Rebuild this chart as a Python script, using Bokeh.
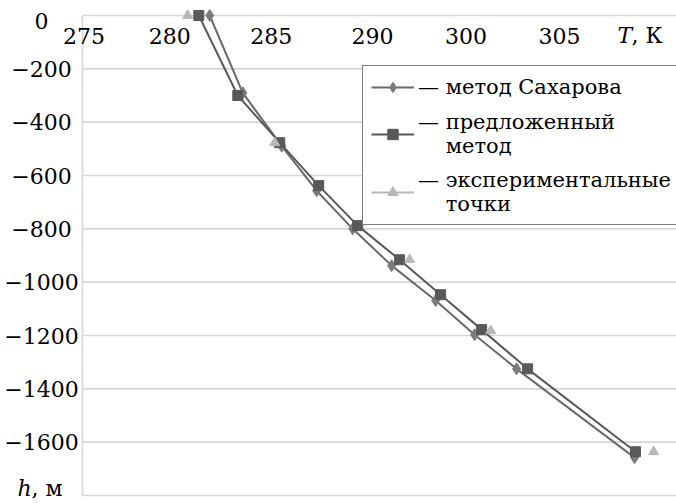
from bokeh.plotting import figure
from bokeh.models import Range1d, Legend, LegendItem
from bokeh.core.properties import value
from bokeh.embed import file_html
from bokeh.resources import INLINE

# ---------------- data ----------------
h_sakharov = [0, -290, -490, -657, -800, -938, -1069, -1197, -1325, -1658]
T_sakharov = [282.56, 284.68, 287.18, 289.42, 291.73, 294.23, 297.05, 299.55, 302.24, 309.81]

h_proposed = [0, -300, -477, -638, -788, -916, -1047, -1178, -1325, -1636]
T_proposed = [281.86, 284.36, 287.05, 289.55, 292.05, 294.74, 297.37, 300.00, 302.95, 309.87]

h_exp = [0, -477, -916, -1182, -1636]
T_exp = [281.15, 286.73, 295.38, 300.58, 311.03]

x_tick_pos = [274.5, 280.0, 286.5, 293.0, 299.0, 305.0]
x_tick_labels = ["275", "280", "285", "290", "300", "305"]

y_ticks = [0, -200, -400, -600, -800, -1000, -1200, -1400, -1600, -1800]
y_tick_labels = ["0", "\u2212200", "\u2212400", "\u2212600", "\u2212800", "\u22121000",
                 "\u22121200", "\u22121400", "\u22121600", ""]

series_names = ["\u2014 метод Сахарова",
                "\u2014 предложенный\n\u2003 метод",
                "\u2014 экспериментальные\n\u2003 точки"]

# ---------------- layout / style ----------------
W, H = 676, 503
PLOT_L, PLOT_T = 82, 15           # canvas px of the plot area's top-left corner
X_AT_L, X_AT_R = 274.4, 312.5     # data x at PLOT_L and at the right canvas edge
Y_AT_T, Y_AT_B = 0, -1800         # data y at PLOT_T and at the plot bottom (px 495)
SX = (W - PLOT_L) / (X_AT_R - X_AT_L)
SY = (495 - PLOT_T) / (Y_AT_T - Y_AT_B)


def px_to_x(px):
    return X_AT_L + (px - PLOT_L) / SX


def py_to_y(py):
    return Y_AT_T - (py - PLOT_T) / SY


FONT = "DejaVu Serif"
FS = "22px"
FS_LEG = "21px"
GRID = "#d6d6d6"
C_SAK = "#7c7c7c"
C_SAK_LINE = "#6a6a6a"
C_PROP = "#595959"
C_EXP = "#b8b8b8"

p = figure(width=W, height=H, output_backend="svg", toolbar_location=None,
           x_range=Range1d(px_to_x(0), px_to_x(W)), y_range=Range1d(py_to_y(H), py_to_y(0)),
           x_axis_type=None, y_axis_type=None, min_border=0)
p.outline_line_color = None
p.background_fill_color = "white"
p.border_fill_color = "white"
p.grid.visible = False

# horizontal grid lines and the vertical axis line of the plot area
p.segment(x0=[X_AT_L] * len(y_ticks), x1=[X_AT_R] * len(y_ticks), y0=y_ticks, y1=y_ticks,
          line_color=GRID, line_width=1.6)
p.segment(x0=[X_AT_L], x1=[X_AT_L], y0=[min(y_ticks)], y1=[max(y_ticks)],
          line_color=GRID, line_width=1.6)

# series
r_s_line = p.line(T_sakharov, h_sakharov, line_color=C_SAK_LINE, line_width=2)
r_s_pts = p.scatter(T_sakharov, h_sakharov, marker="diamond", size=12,
                    fill_color=C_SAK, line_color=C_SAK)
r_p_line = p.line(T_proposed, h_proposed, line_color=C_PROP, line_width=2)
r_p_pts = p.scatter(T_proposed, h_proposed, marker="square", size=10,
                    fill_color=C_PROP, line_color=C_PROP)
r_e_line = p.line(x=[float("nan")], y=[float("nan")], line_color=C_EXP, line_width=2)
r_e_pts = p.scatter(T_exp, h_exp, marker="triangle", size=10,
                    fill_color=C_EXP, line_color=C_EXP)

txt = dict(text_font=value(FONT), text_font_size=value(FS), text_color="black")

# x tick labels (under the zero line)
p.text(x=x_tick_pos, y=[py_to_y(35)] * len(x_tick_pos), text=x_tick_labels,
       text_align="center", text_baseline="middle", **txt)

# y tick labels (centred in the left margin)
ylab_y = [py_to_y(20) if v == 0 else v for v in y_ticks]
p.text(x=[px_to_x(41)] * len(y_ticks), y=ylab_y, text=y_tick_labels,
       text_align="center", text_baseline="middle", **txt)

# axis titles
p.text(x=[px_to_x(617)], y=[py_to_y(35)], text=["T"], text_align="left",
       text_baseline="middle", text_font_style="italic", **txt)
p.text(x=[px_to_x(631)], y=[py_to_y(35)], text=[", К"], text_align="left",
       text_baseline="middle", **txt)
p.text(x=[px_to_x(17)], y=[py_to_y(488)], text=["h"], text_align="left",
       text_baseline="middle", text_font_style="italic", **txt)
p.text(x=[px_to_x(31)], y=[py_to_y(488)], text=[", м"], text_align="left",
       text_baseline="middle", **txt)

legend = Legend(items=[
    LegendItem(label=series_names[0], renderers=[r_s_line, r_s_pts]),
    LegendItem(label=series_names[1], renderers=[r_p_line, r_p_pts]),
    LegendItem(label=series_names[2], renderers=[r_e_line, r_e_pts]),
], location=(362, H - 225))
legend.label_text_font = FONT
legend.label_text_font_size = FS_LEG
legend.label_text_line_height = 1.12
legend.label_text_color = "black"
legend.border_line_color = "black"
legend.border_line_width = 1.5
legend.background_fill_color = "white"
legend.background_fill_alpha = 1
legend.padding = 8
legend.spacing = 10
legend.margin = 0
legend.glyph_width = 43
legend.glyph_height = 26
legend.label_standoff = 4
legend.label_height = 26
p.add_layout(legend)

open("out.html", "w").write(file_html(p, INLINE))
